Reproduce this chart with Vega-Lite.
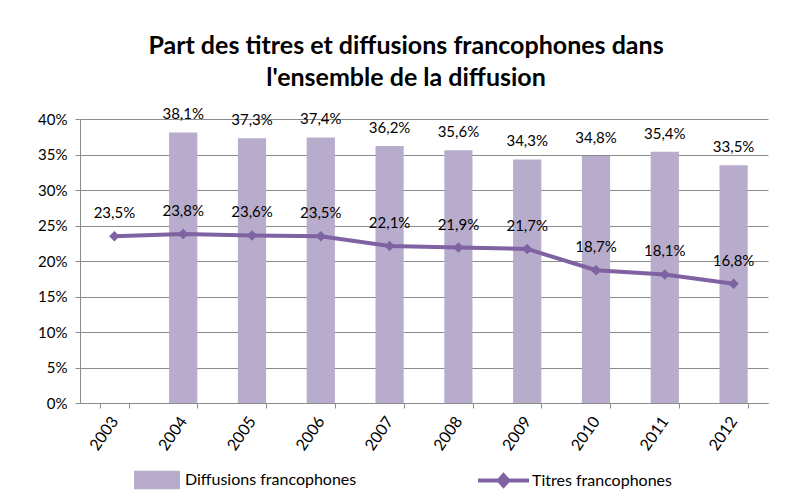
{
  "$schema": "https://vega.github.io/schema/vega-lite/v6.json",
  "width": 688,
  "height": 284,
  "autosize": {"type": "none"},
  "padding": {"left": 80, "top": 119, "right": 27, "bottom": 101},
  "background": "white",
  "config": {
    "font": "Lato",
    "view": {"stroke": null},
    "axisY": {
      "title": null,
      "format": ".0%",
      "values": [0, 0.05, 0.1, 0.15, 0.2, 0.25, 0.3, 0.35, 0.4],
      "labelOverlap": false,
      "labelFontSize": 15,
      "labelColor": "#000000",
      "labelPadding": 8,
      "tickSize": 5,
      "tickColor": "#8c8c8c",
      "domainColor": "#8c8c8c",
      "gridColor": "#8c8c8c",
      "gridOpacity": 1
    },
    "locale": {"number": {"decimal": ",", "thousands": " ", "grouping": [3], "currency": ["", " €"]}}
  },
  "title": {
    "text": ["Part des titres et diffusions francophones dans", "l'ensemble de la diffusion"],
    "font": "Lato",
    "fontSize": 25,
    "fontWeight": "bold",
    "color": "#000000",
    "anchor": "middle",
    "dx": -18,
    "offset": 16,
    "lineHeight": 32
  },
  "data": {
    "values": [
      {"annee": "2003", "diffusions": null, "titres": 0.235},
      {"annee": "2004", "diffusions": 0.381, "titres": 0.238},
      {"annee": "2005", "diffusions": 0.373, "titres": 0.236},
      {"annee": "2006", "diffusions": 0.374, "titres": 0.235},
      {"annee": "2007", "diffusions": 0.362, "titres": 0.221},
      {"annee": "2008", "diffusions": 0.356, "titres": 0.219},
      {"annee": "2009", "diffusions": 0.343, "titres": 0.217},
      {"annee": "2010", "diffusions": 0.348, "titres": 0.187},
      {"annee": "2011", "diffusions": 0.354, "titres": 0.181},
      {"annee": "2012", "diffusions": 0.335, "titres": 0.168}
    ]
  },
  "encoding": {
    "x": {
      "field": "annee",
      "type": "nominal",
      "scale": {"paddingInner": 0.59, "paddingOuter": 0.295},
      "axis": {
        "title": null,
        "labelAngle": -55,
        "labelAlign": "right",
        "labelBaseline": "middle",
        "labelFontSize": 16,
        "labelColor": "#000000",
        "labelPadding": 10,
        "tickBand": "extent",
        "tickSize": 5,
        "tickColor": "#8c8c8c",
        "domainColor": "#8c8c8c",
        "grid": false
      }
    }
  },
  "layer": [
    {
      "mark": {"type": "bar"},
      "encoding": {
        "y": {
          "field": "diffusions",
          "type": "quantitative",
          "scale": {"domain": [0, 0.4]}
        },
        "fill": {
          "datum": "Diffusions francophones",
          "scale": {"range": ["#b7accb"]},
          "legend": {
            "title": null,
            "orient": "none",
            "legendX": 54,
            "legendY": 338,
            "symbolType": "M-1,-0.4H1V0.4H-1Z",
            "symbolSize": 2116,
            "symbolStrokeWidth": 0,
            "labelFontSize": 16,
            "labelLimit": 400,
            "labelColor": "#000000",
            "labelOffset": 5
          }
        }
      }
    },
    {
      "mark": {"type": "text", "dy": -18, "baseline": "middle", "fontSize": 15, "color": "#000000"},
      "encoding": {
        "y": {"field": "diffusions", "type": "quantitative"},
        "text": {"field": "diffusions", "type": "quantitative", "format": ".1%"}
      }
    },
    {
      "mark": {"type": "line", "color": "#7e62a1", "strokeWidth": 4},
      "encoding": {
        "y": {"field": "titres", "type": "quantitative"}
      }
    },
    {
      "mark": {"type": "point", "shape": "diamond", "filled": true, "size": 110, "opacity": 1},
      "encoding": {
        "y": {"field": "titres", "type": "quantitative"},
        "color": {
          "datum": "Titres francophones",
          "scale": {"range": ["#7e62a1"]},
          "legend": {
            "title": null,
            "orient": "none",
            "legendX": 398,
            "legendY": 336,
            "symbolType": "M-1,-0.08H-0.22L0,-0.32L0.22,-0.08H1V0.08H0.22L0,0.32L-0.22,0.08H-1Z",
            "symbolSize": 2601,
            "symbolStrokeWidth": 0,
            "symbolOpacity": 1,
            "labelFontSize": 16,
            "labelLimit": 400,
            "labelColor": "#000000",
            "labelOffset": 3
          }
        }
      }
    },
    {
      "mark": {"type": "text", "dy": -23, "baseline": "middle", "fontSize": 15, "color": "#000000"},
      "encoding": {
        "y": {"field": "titres", "type": "quantitative"},
        "text": {"field": "titres", "type": "quantitative", "format": ".1%"}
      }
    }
  ],
  "resolve": {"scale": {"fill": "independent", "color": "independent"}}
}
